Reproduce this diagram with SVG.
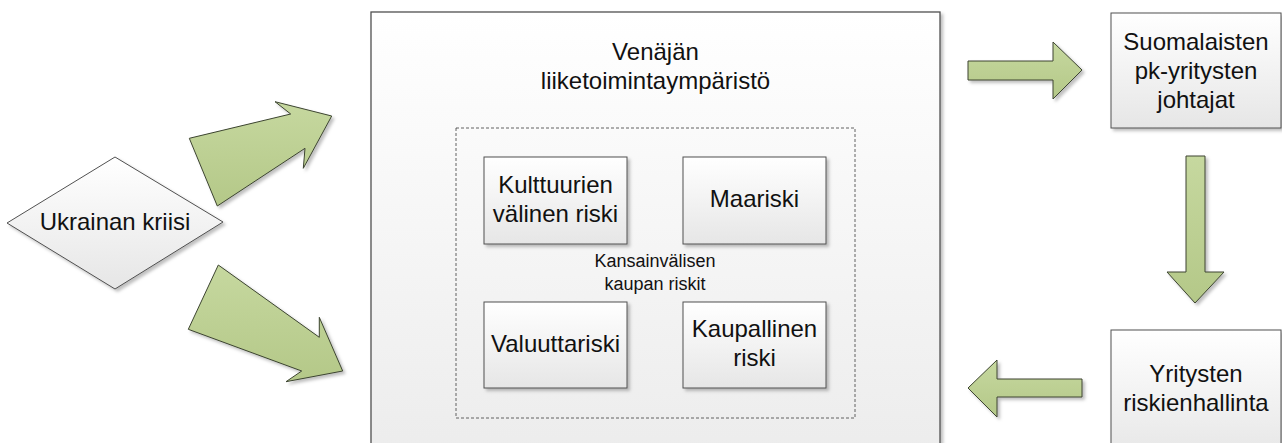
<svg xmlns="http://www.w3.org/2000/svg" width="1282" height="443" viewBox="0 0 1282 443">
<defs>
<linearGradient id="gBox" x1="0" y1="0" x2="0" y2="1">
<stop offset="0" stop-color="#ffffff"/>
<stop offset="1" stop-color="#e6e6e6"/>
</linearGradient>
<linearGradient id="gBig" x1="0" y1="0" x2="0" y2="1">
<stop offset="0" stop-color="#ffffff"/>
<stop offset="1" stop-color="#ececec"/>
</linearGradient>
<linearGradient id="gArrow" x1="0" y1="0" x2="0" y2="1">
<stop offset="0" stop-color="#c6d89f"/>
<stop offset="1" stop-color="#b4c888"/>
</linearGradient>
<filter id="sh" x="-10%" y="-10%" width="130%" height="130%">
<feDropShadow dx="2.5" dy="2.5" stdDeviation="1.5" flood-color="#000" flood-opacity="0.25"/>
</filter>
</defs>
<style>
.box{fill:url(#gBox);stroke:#505050;stroke-width:1;filter:url(#sh)}
.big{fill:url(#gBig);stroke:#505050;stroke-width:1.3;filter:url(#sh)}
.dash{fill:none;stroke:#505050;stroke-width:0.9;stroke-dasharray:3 2}
.arrow{fill:url(#gArrow);stroke:#3c4430;stroke-width:1;stroke-linejoin:miter;filter:url(#sh)}
text{font-family:"Liberation Sans",Arial,sans-serif;fill:#111;text-anchor:middle}
.t{font-size:24px}
.s{font-size:18px}
</style>
<rect width="1282" height="443" fill="#ffffff"/>

<g id="ukraine">
<polygon class="box" points="7,223 115,157 223,222 115,289"/>
<text class="t" x="115" y="230">Ukrainan kriisi</text>
</g>

<g id="russia">
<rect class="big" x="371" y="12" width="569" height="450"/>
<text class="t" x="655.5" y="60">Venäjän</text>
<text class="t" x="655.5" y="89">liiketoimintaympäristö</text>
</g>

<g id="risks">
<rect class="dash" x="456" y="128" width="399" height="290"/>
<text class="s" x="655" y="267">Kansainvälisen</text>
<text class="s" x="655" y="290">kaupan riskit</text>
</g>

<g id="kulttuuri">
<rect class="box" x="484" y="157" width="143" height="87"/>
<text class="t" x="555.5" y="193">Kulttuurien</text>
<text class="t" x="555.5" y="222">välinen riski</text>
</g>

<g id="maariski">
<rect class="box" x="683" y="157" width="143" height="87"/>
<text class="t" x="754.5" y="207">Maariski</text>
</g>

<g id="valuutta">
<rect class="box" x="484" y="302" width="143" height="86"/>
<text class="t" x="555.5" y="352">Valuuttariski</text>
</g>

<g id="kaupallinen">
<rect class="box" x="683" y="302" width="143" height="86"/>
<text class="t" x="754.5" y="337">Kaupallinen</text>
<text class="t" x="754.5" y="366">riski</text>
</g>

<g id="johtajat">
<rect class="box" x="1111" y="13" width="170" height="115"/>
<text class="t" x="1196" y="50">Suomalaisten</text>
<text class="t" x="1196" y="79">pk-yritysten</text>
<text class="t" x="1196" y="108">johtajat</text>
</g>

<g id="riskienhallinta">
<rect class="box" x="1111" y="330" width="170" height="130"/>
<text class="t" x="1196" y="382">Yritysten</text>
<text class="t" x="1196" y="411">riskienhallinta</text>
</g>

<g id="connectors">
<polygon class="arrow" points="189.3,138.3 290.7,114 275,101.7 331.7,116 303.3,168.3 305,148.3 217.3,206"/>
<polygon class="arrow" points="218.3,265 319.3,337.3 319.3,317.3 342.7,371 286,381.7 301.7,371 188.3,329.3"/>
<polygon class="arrow" points="968,61 1053,61 1053,42 1082,70 1053,99 1053,80 968,80"/>
<polygon class="arrow" points="1186,156 1205,156 1205,272 1224,272 1195,303 1167,272 1186,272"/>
<polygon class="arrow" points="1082,379 997,379 997,360 968,388 997,417 997,397 1082,397"/>
</g>
</svg>
